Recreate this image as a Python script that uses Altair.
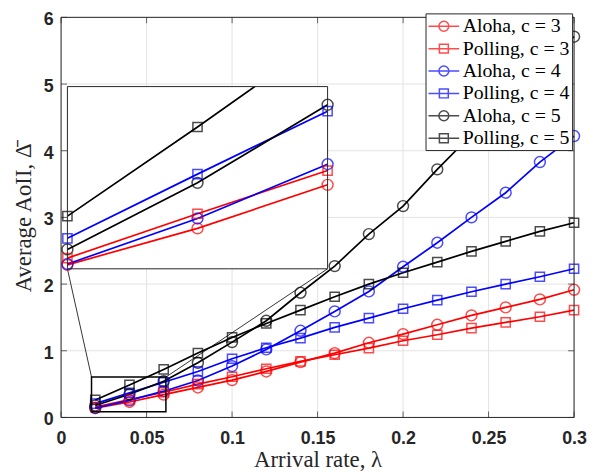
import altair as alt
import pandas as pd

# ---------------- data ----------------
lam = [0.02, 0.04, 0.06, 0.08, 0.10, 0.12, 0.14, 0.16, 0.18, 0.20, 0.22, 0.24, 0.26, 0.28, 0.30]
aloha_c3 = [0.140, 0.232, 0.342, 0.450, 0.560, 0.690, 0.830, 0.965, 1.120, 1.250, 1.390, 1.530, 1.650, 1.770, 1.915]
polling_c3 = [0.157, 0.269, 0.378, 0.500, 0.610, 0.730, 0.840, 0.940, 1.040, 1.150, 1.240, 1.340, 1.425, 1.510, 1.610]
aloha_c4 = [0.142, 0.257, 0.394, 0.555, 0.770, 1.020, 1.300, 1.590, 1.890, 2.260, 2.620, 3.000, 3.370, 3.830, 4.220]
polling_c4 = [0.207, 0.369, 0.528, 0.690, 0.880, 1.045, 1.190, 1.350, 1.490, 1.630, 1.760, 1.885, 2.000, 2.110, 2.230]
aloha_c5 = [0.179, 0.347, 0.544, 0.820, 1.130, 1.450, 1.870, 2.270, 2.750, 3.170, 3.720, 4.240, 4.740, 5.230, 5.710]
polling_c5 = [0.263, 0.488, 0.720, 0.965, 1.200, 1.410, 1.610, 1.810, 2.000, 2.170, 2.330, 2.490, 2.640, 2.790, 2.920]

series_keys = ["a3", "p3", "a4", "p4", "a5", "p5"]
series_names = ["Aloha, c = 3", "Polling, c = 3", "Aloha, c = 4",
                "Polling, c = 4", "Aloha, c = 5", "Polling, c = 5"]
series_values = [aloha_c3, polling_c3, aloha_c4, polling_c4, aloha_c5, polling_c5]

x_ticks = [0, 0.05, 0.1, 0.15, 0.2, 0.25, 0.3]
y_ticks = [0, 1, 2, 3, 4, 5, 6]

inset_x = [0.02, 0.06]
inset_y = [0.13, 0.59]
zoom_box_x = [0.0178, 0.0613]
zoom_box_y = [0.086, 0.606]

# ---------------- styling / layout ----------------
series_colors = ["#ff0000", "#ff0000", "#0000ff", "#0000ff", "#000000", "#000000"]
circ = "M-1.55,0L1.55,0M0.5,0A0.5,0.5,0,1,1,-0.5,0A0.5,0.5,0,1,1,0.5,0"
sq = "M-1.55,0L1.55,0M-0.45,-0.45L0.45,-0.45L0.45,0.45L-0.45,0.45Z"
legend_paths = [circ, sq, circ, sq, circ, sq]

W, H = 518, 404            # main plot area
IX0, IY0 = 6.4, 69.9       # inset top-left inside main plot
IW, IH = 262.7, 184        # inset size (this is the Vega view)
AX = "#262626"
GRID = "#e3e3e3"
LW = 1.7

rows = []
for key, name, vals in zip(series_keys, series_names, series_values):
    for x, y in zip(lam, vals):
        rows.append({"lam": x, "aoii": y, "key": key, "series": name})
df = pd.DataFrame(rows)

col = alt.Color("key:N", scale=alt.Scale(domain=series_keys, range=series_colors), legend=None)

xs = alt.Scale(domain=[0, 0.3], range=[-IX0, W - IX0], nice=False, zero=False)
ys = alt.Scale(domain=[0, 6], range=[H - IY0, -IY0], nice=False, zero=False)
ixs = alt.Scale(domain=inset_x, range=[0, IW], nice=False, zero=False)
iys = alt.Scale(domain=inset_y, range=[IH, 0], nice=False, zero=False)

x_axis = alt.Axis(orient="bottom", offset=H - IY0 - IH, values=x_ticks, format="~g",
                  title="Arrival rate, λ", grid=False, ticks=False, tickSize=0, domain=False,
                  labelPadding=12, titlePadding=2, labelFlush=False)
y_axis = alt.Axis(orient="left", offset=IX0, values=y_ticks, format="d",
                  title="Average AoII, Δ\u0304", grid=False, ticks=False, tickSize=0,
                  domain=False, labelPadding=8, titlePadding=8, labelOffset=2.5,
                  labelFlush=False)

Xn = alt.X("lam:Q", scale=xs, axis=None)
Yn = alt.Y("aoii:Q", scale=ys, axis=None)

tick_x = pd.DataFrame({"lam": x_ticks})
tick_y = pd.DataFrame({"aoii": y_ticks})

# grid (carries the axes)
grid_x = alt.Chart(tick_x).mark_rule(color=GRID, strokeWidth=1).encode(
    x=alt.X("lam:Q", scale=xs, axis=x_axis), y=alt.value(-IY0), y2=alt.value(H - IY0))
grid_y = alt.Chart(tick_y).mark_rule(color=GRID, strokeWidth=1).encode(
    y=alt.Y("aoii:Q", scale=ys, axis=y_axis), x=alt.value(-IX0), x2=alt.value(W - IX0))

base = alt.Chart(df)
lines = base.mark_line(strokeWidth=LW).encode(x=Xn, y=Yn, color=col, detail="key:N")
circles = base.transform_filter("indexof(datum.key, 'a') == 0").mark_point(
    shape="circle", size=121, filled=False, strokeWidth=1.5).encode(x=Xn, y=Yn, color=col)
squares = base.transform_filter("indexof(datum.key, 'p') == 0").mark_point(
    shape="square", size=86, filled=False, strokeWidth=1.5).encode(x=Xn, y=Yn, color=col)

# inward ticks
xt_b = alt.Chart(tick_x).mark_tick(color=AX, thickness=1, size=6).encode(x=Xn, y=alt.value(H - IY0 - 3))
xt_t = alt.Chart(tick_x).mark_tick(color=AX, thickness=1, size=6).encode(x=Xn, y=alt.value(-IY0 + 3))
yt_l = alt.Chart(tick_y).mark_tick(color=AX, thickness=1, size=6).encode(y=Yn, x=alt.value(-IX0 + 3))
yt_r = alt.Chart(tick_y).mark_tick(color=AX, thickness=1, size=6).encode(y=Yn, x=alt.value(W - IX0 - 3))

one = pd.DataFrame({"k": [0]})
main_frame = alt.Chart(one).mark_rect(fill=None, stroke=AX, strokeWidth=1).encode(
    x=alt.value(-IX0), x2=alt.value(W - IX0), y=alt.value(-IY0), y2=alt.value(H - IY0))

# zoom box and connectors
zb = pd.DataFrame({"lam": [zoom_box_x[0]], "lam2": [zoom_box_x[1]],
                   "aoii": [zoom_box_y[0]], "aoii2": [zoom_box_y[1]]})
zoom_rect = alt.Chart(zb).mark_rect(filled=False, stroke="black", strokeWidth=1.5).encode(
    x=Xn, x2="lam2:Q", y=Yn, y2="aoii2:Q")
conn_l = alt.Chart(pd.DataFrame({"lam": [zoom_box_x[0]], "aoii": [zoom_box_y[1]]})).mark_rule(
    color="black", strokeWidth=0.8).encode(x=Xn, y=Yn, x2=alt.value(0), y2=alt.value(IH))
conn_r = alt.Chart(pd.DataFrame({"lam": [zoom_box_x[1]], "aoii": [zoom_box_y[1]]})).mark_rule(
    color="black", strokeWidth=0.8).encode(x=Xn, y=Yn, x2=alt.value(IW), y2=alt.value(IH))

# legend (own layer, no marks drawn)
leg = alt.Legend(orient="none", legendX=368 - IX0, legendY=-4 - IY0, title=None, padding=2,
                 fillColor="white", strokeColor=AX, symbolSize=400, symbolStrokeWidth=1.5,
                 symbolOffset=5.5, labelFont="Liberation Serif", labelFontSize=20,
                 labelColor="black", labelOffset=8, rowPadding=1.6)
legend_layer = base.transform_filter("datum.lam < 0").mark_point(
    filled=False, size=400, strokeWidth=1.5).encode(
    x=Xn, y=Yn,
    stroke=alt.Stroke("series:N", scale=alt.Scale(domain=series_names, range=series_colors), legend=leg),
    shape=alt.Shape("series:N", scale=alt.Scale(domain=series_names, range=legend_paths), legend=leg))

# ---------------- inset ----------------
IXe = alt.X("lam:Q", scale=ixs, axis=None)
IYe = alt.Y("aoii:Q", scale=iys, axis=None)
in_bg = alt.Chart(one).mark_rect(fill="white", stroke=None).encode(
    x=alt.value(0), x2=alt.value(IW), y=alt.value(0), y2=alt.value(IH))
in_frame = alt.Chart(one).mark_rect(fill=None, stroke=AX, strokeWidth=1).encode(
    x=alt.value(0), x2=alt.value(IW), y=alt.value(0), y2=alt.value(IH))
ibase = base.transform_filter(f"datum.lam <= {inset_x[1] + 1e-9}")
in_lines = ibase.mark_line(strokeWidth=LW, clip=True).encode(x=IXe, y=IYe, color=col, detail="key:N")
ipts = ibase.transform_filter(f"datum.aoii <= {inset_y[1]}")
in_circ = ipts.transform_filter("indexof(datum.key, 'a') == 0").mark_point(
    shape="circle", size=121, filled=False, strokeWidth=1.5).encode(x=IXe, y=IYe, color=col)
in_sq = ipts.transform_filter("indexof(datum.key, 'p') == 0").mark_point(
    shape="square", size=86, filled=False, strokeWidth=1.5).encode(x=IXe, y=IYe, color=col)

chart = alt.layer(
    grid_x, grid_y, lines, circles, squares, xt_b, xt_t, yt_l, yt_r, main_frame,
    zoom_rect, conn_l, conn_r, legend_layer,
    in_bg, in_lines, in_circ, in_sq, in_frame,
).resolve_scale(x="independent", y="independent").properties(
    width=IW, height=IH,
    padding={"left": 4, "top": 0, "right": 5, "bottom": 0},
).configure_view(stroke=None).configure_axis(
    labelFont="Liberation Sans", labelFontSize=18, labelFontWeight="bold", labelColor=AX,
    titleFont="Liberation Serif", titleFontSize=23, titleFontWeight="normal", titleColor=AX)

chart.save("out.html", embed_options={"renderer": "svg", "actions": False})
